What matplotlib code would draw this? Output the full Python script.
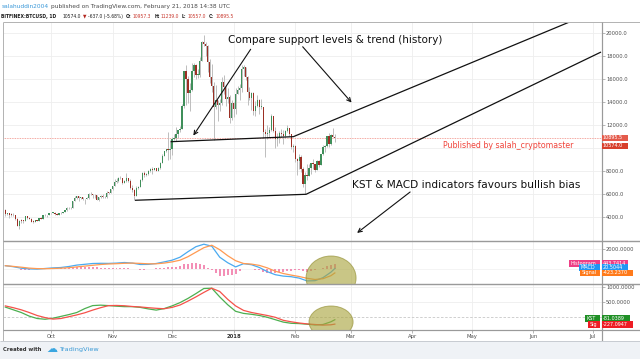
import matplotlib
matplotlib.use('Agg')
import matplotlib.pyplot as plt
import matplotlib.dates as mdates
from matplotlib.patches import Ellipse, Rectangle
from matplotlib.lines import Line2D
import numpy as np
import pandas as pd

plt.rcParams['font.family'] = ['DejaVu Sans']

# ------------------------------------------------------------------ data
candle_start = '2017-09-08'   # daily candles, Sep 8 2017 .. Feb 21 2018
open_ = [4650, 4290, 4330, 4230, 4200, 4160, 3880, 3260, 3720, 3700, 3690, 4080, 3900, 3880, 3610, 3600, 3780, 3670, 3930, 3890, 4210, 4190, 4170,
         4350, 4400, 4410, 4320, 4230, 4330, 4370, 4440, 4610, 4780, 4770, 4830, 5440, 5640, 5820, 5700, 5760, 5590, 5570, 5710, 6000, 6010, 5980, 5900, 5520, 5740, 5890, 5770, 5730, 6150, 6130,
         6460, 6740, 7030, 7160, 7390, 7390, 6970, 7120, 7450, 7140, 6580, 6340, 5880, 6550, 6610, 7280, 7850, 7700, 7790, 8040, 8200, 8090, 8250, 8040, 8250, 8750, 9330, 9750, 9900, 9850,
         9950, 10850, 10900, 11250, 11600, 11700, 13700, 16700, 16000, 14800, 15100, 16700, 17200, 16400, 16400, 17600, 19200, 19100, 18900, 17500, 16200, 15400, 13600, 14200, 13800, 13900, 15800, 15300, 14300, 14500, 12600,
         13900, 13400, 14700, 15100, 15200, 16900, 17100, 16200, 14900, 14400, 14800, 13200, 13700, 14200, 13600, 13600, 11400, 11200, 11300, 11600, 12800, 11500, 10800, 10900, 11300, 11200, 11100, 11500, 11800, 11200, 10100,
         10200, 9100, 8900, 9200, 8200, 6900, 7700, 7600, 8300, 8700, 8600, 8100, 8900, 8550, 9500, 10100, 10200, 11100, 10400, 11150, 10957]
high = [4700, 4370, 4340, 4340, 4380, 4170, 3930, 3800, 3820, 3780, 4100, 4100, 4040, 3900, 3750, 3790, 3790, 3970, 3990, 4220, 4260, 4210, 4370,
        4410, 4470, 4440, 4350, 4360, 4420, 4470, 4630, 4880, 4920, 4880, 5450, 5850, 5840, 5850, 5790, 5780, 5600, 5740, 6070, 6200, 6060, 6060, 5920, 5760, 5970, 6000, 5850, 6290, 6220, 6470,
        6750, 7330, 7460, 7490, 7600, 7410, 7200, 7880, 7460, 7300, 6800, 6480, 6700, 6720, 7300, 7960, 8000, 7850, 8130, 8280, 8380, 8300, 8300, 8330, 8770, 9500, 9780, 9980, 11430, 10720,
        10950, 11200, 11850, 11620, 11950, 13850, 16700, 17250, 16300, 15700, 17400, 17400, 17300, 16900, 17900, 19300, 19890, 19200, 18950, 17800, 17300, 15800, 15500, 14200, 14300, 16200, 16400, 15500, 15200, 14600, 14200,
        14000, 15250, 15400, 15600, 17200, 17250, 17100, 16300, 15350, 14900, 14900, 14100, 14600, 14300, 14300, 13600, 11700, 12000, 11850, 13000, 12800, 11850, 11300, 11500, 11700, 11600, 11600, 12000, 11800, 11250, 10350,
        10250, 9150, 9500, 9400, 8400, 7900, 8600, 8600, 8750, 9100, 8600, 8950, 8950, 9500, 10300, 10300, 11100, 11300, 11250, 11780, 11239]
low = [4110, 4160, 3920, 4140, 4100, 3780, 3230, 2980, 3520, 3500, 3680, 3860, 3860, 3580, 3540, 3560, 3640, 3660, 3860, 3880, 4120, 4040, 4160,
       4280, 4380, 4240, 4180, 4170, 4320, 4330, 4430, 4560, 4740, 4740, 4820, 5380, 5570, 5440, 5620, 5510, 5120, 5560, 5610, 5900, 5720, 5650, 5500, 5420, 5700, 5700, 5640, 5690, 6020, 6120,
       6400, 6740, 7000, 7040, 7290, 6930, 6950, 7080, 7060, 6450, 6200, 5510, 5850, 6450, 6610, 7130, 7540, 7550, 7700, 7970, 7800, 8090, 8030, 8000, 8240, 8750, 9330, 9650, 9000, 9100,
       9460, 10700, 10600, 10900, 11460, 11700, 13500, 13800, 13900, 13200, 15000, 16200, 16000, 16150, 16200, 17600, 18900, 18000, 16600, 15700, 14900, 10700, 13400, 12400, 13200, 13800, 14700, 13700, 13900, 12200, 12500,
       12750, 12950, 14700, 14200, 14900, 16300, 15900, 13800, 14200, 13300, 12900, 12800, 13600, 13000, 13400, 10900, 9200, 10800, 11000, 11500, 11400, 10000, 10200, 10500, 10950, 10400, 10900, 11400, 11100, 9950, 9700,
       8800, 7700, 8200, 7900, 6600, 6000, 7200, 7600, 7800, 8200, 7900, 8100, 8400, 8550, 9400, 9700, 10100, 10100, 10300, 10950, 10557]
close = [4290, 4330, 4230, 4200, 4160, 3880, 3260, 3720, 3700, 3690, 4080, 3900, 3880, 3610, 3600, 3780, 3670, 3930, 3890, 4210, 4190, 4170, 4350,
         4400, 4410, 4320, 4230, 4330, 4370, 4440, 4610, 4780, 4770, 4830, 5440, 5640, 5820, 5700, 5760, 5590, 5570, 5710, 6000, 6010, 5980, 5900, 5520, 5740, 5890, 5770, 5730, 6150, 6130, 6460,
         6740, 7030, 7160, 7390, 7390, 6970, 7120, 7450, 7140, 6580, 6340, 5880, 6550, 6610, 7280, 7850, 7700, 7790, 8040, 8200, 8090, 8250, 8040, 8250, 8750, 9330, 9750, 9900, 9850, 9950,
         10850, 10900, 11250, 11600, 11700, 13700, 16700, 16000, 14800, 15100, 16700, 17200, 16400, 16400, 17600, 19200, 19100, 18900, 17500, 16200, 15400, 13600, 14200, 13800, 13900, 15800, 15300, 14300, 14500, 12600, 13900,
         13400, 14700, 15100, 15200, 16900, 17100, 16200, 14900, 14400, 14800, 13200, 13700, 14200, 13600, 13600, 11400, 11200, 11300, 11600, 12800, 11500, 10800, 10900, 11300, 11200, 11100, 11500, 11800, 11200, 10100, 10200,
         9100, 8900, 9200, 8200, 6900, 7700, 7600, 8300, 8700, 8600, 8100, 8900, 8550, 9500, 10100, 10200, 11100, 10400, 11150, 10957, 10896]
last_price = 10895.5
last_label = 10574.0

# indicator samples read every 4 days (plus last bar)
macd = [300, 200, 50, -20, -40, 20, 80, 120, 220, 360, 440, 520, 540, 530, 560, 620, 560, 420, 430, 520, 680, 850, 1150, 1700, 2200,
        2450, 2250, 1150, 600, 180, 500, 400, 120, -300, -600, -740, -800, -940, -1220, -1200, -900, -350, 20]
signal = [300, 230, 150, 60, 10, 0, 20, 50, 100, 180, 260, 340, 420, 470, 500, 540, 560, 530, 490, 490, 560, 680, 850, 1200, 1650,
          2100, 2350, 1900, 1300, 800, 520, 460, 330, 80, -250, -480, -640, -780, -960, -1080, -1000, -700, -423]
kst = [340, 250, 160, 40, -40, -65, -30, 30, 90, 160, 290, 390, 405, 390, 370, 355, 355, 330, 280, 240, 290, 380, 490, 630, 790,
       960, 970, 680, 420, 200, 130, 100, 60, 0, -80, -160, -200, -210, -230, -255, -240, -150, -81]
kst_sig = [380, 320, 250, 160, 60, -10, -60, -40, 20, 80, 150, 240, 320, 390, 395, 385, 360, 345, 320, 300, 285, 330, 410, 540, 680,
           830, 970, 860, 600, 380, 230, 160, 110, 60, 0, -100, -150, -190, -220, -240, -260, -250, -227]
# MACD histogram read every 2 days
hist = [0, -20, -30, -60, -90, -90, -80, -70, -50, -20, 20, 40,
        60, 70, 70, 90, 120, 160, 180, 190, 180, 180, 170, 140, 120, 80, 60,
        60, 60, 70, 80, 40, 0, -70, -110, -90, -60, -20, 30, 80, 120, 150,
        170, 220, 300, 450, 520, 560, 550, 450, 350, 100, -100, -450, -700, -700, -650, -600,
        -550, -200, 0, 10, -50, -100, -170, -300, -400, -420, -400, -350, -300, -230, -180,
        -150, -170, -250, -290, -200, -100, 20, 120, 250, 350, 443]

month_ticks = ['2017-10-01', '2017-11-01', '2017-12-01', '2018-01-01', '2018-02-01',
               '2018-03-01', '2018-04-01', '2018-05-01', '2018-06-01', '2018-07-01']
month_labels = ['Oct', 'Nov', 'Dec', '2018', 'Feb', 'Mar', 'Apr', 'May', 'Jun', 'Jul']
price_ticks = [4000, 6000, 8000, 12000, 14000, 16000, 18000, 20000]
price_grid = [4000, 6000, 8000, 10000, 12000, 14000, 16000, 18000, 20000]

# drawings (time, price) as anchored on the chart
support_hi = [('2017-11-30 07:00', 10574), ('2018-01-31 02:00', 11010), ('2018-07-04 12:00', 22080)]
support_lo = [('2017-11-12 07:00', 5480), ('2018-02-06 12:00', 6000), ('2018-07-05 02:00', 18370)]
arrows = [(('2018-01-09 14:00', 18610), ('2017-12-11 17:00', 11110)),
          (('2018-02-04 19:00', 18830), ('2018-03-01 10:00', 13980)),
          (('2018-03-30 22:00', 6200), ('2018-03-04 05:00', 2640))]

# ------------------------------------------------------------------ figure
W, H = 640, 359
fig = plt.figure(figsize=(W / 100, H / 100), dpi=100)
fig.patch.set_facecolor('white')
renderer = fig.canvas.get_renderer()


def add_ax(x0, y0, x1, y1):
    a = fig.add_axes([x0 / W, 1 - y1 / H, (x1 - x0) / W, (y1 - y0) / H])
    for s in a.spines.values():
        s.set_visible(False)
    a.set_facecolor('white')
    return a


X0, X1 = 3, 601.5
PXD = 1.985
oct1 = mdates.date2num(pd.Timestamp('2017-10-01'))
xlim = (oct1 + (X0 - 51) / PXD, oct1 + (X1 - 51) / PXD)

Y_TOP, Y_M, Y_K, Y_B = 22, 240.7, 284.2, 329.5
ax = add_ax(X0, Y_TOP, X1, Y_M)
axm = add_ax(X0, Y_M, X1, Y_K)
axk = add_ax(X0, Y_K, X1, Y_B)

def tn(s):
    return mdates.date2num(pd.Timestamp(s))

mt = [tn(m) for m in month_ticks]
for a in (ax, axm, axk):
    a.set_xlim(*xlim)
    for m in mt:
        a.axvline(m, color='#eeeeee', lw=0.6, zorder=0)
    a.yaxis.tick_right()
    a.tick_params(axis='y', which='both', direction='out', length=2, width=0.5, color='#9a9a9a',
                  labelsize=3.7, labelcolor='#4d4d4d', pad=1.2, left=False, labelleft=False,
                  right=True, labelright=True)
    a.tick_params(axis='x', bottom=False, labelbottom=False)

# ---- price panel
ax.set_ylim(20000 - (Y_M - 33.3) * 86.96, 20000 + (33.3 - Y_TOP) * 86.96)
for v in price_grid:
    ax.axhline(v, color='#eeeeee', lw=0.6, zorder=0)
ax.set_yticks(price_ticks)
ax.set_yticklabels(['%.1f' % v for v in price_ticks])

cx = mdates.date2num(pd.date_range(candle_start, periods=len(close), freq='D'))
o = np.array(open_, float); c = np.array(close, float)
hi = np.array(high, float); lo = np.array(low, float)
up = c >= o
ax.vlines(cx, lo, hi, color='#bdbdbd', lw=0.7, zorder=2)
body = np.maximum(np.abs(c - o), 45)
ax.bar(cx, body, bottom=np.minimum(o, c), width=0.62,
       color=np.where(up, '#3f8f5a', '#9c2f24'), linewidth=0, zorder=3)
ax.axhline(last_price, color='#f08a80', lw=0.6, ls=(0, (1, 1)), zorder=1)

def seg(pts):
    return [tn(p[0]) for p in pts], [p[1] for p in pts]

for pts in (support_hi, support_lo):
    xs, ys = seg(pts)
    ax.plot(xs, ys, color='#111111', lw=0.9, zorder=5, solid_capstyle='butt')
for (p0, p1) in arrows:
    ax.annotate('', xy=(tn(p1[0]), p1[1]), xytext=(tn(p0[0]), p0[1]),
                arrowprops=dict(arrowstyle='->', color='#111111', lw=0.8,
                                mutation_scale=7, shrinkA=0, shrinkB=0),
                annotation_clip=False, zorder=6)

# ---- MACD panel
axm.set_ylim((268.7 - Y_K) * 100, (268.7 - Y_M) * 100)
axm.axhline(2000, color='#eeeeee', lw=0.6, zorder=0)
axm.axhline(0, color='#f2f2f2', lw=0.6, zorder=0)
axm.set_yticks([2000])
axm.set_yticklabels(['2000.0000'])
ind_x = mdates.date2num(pd.date_range('2017-09-08', periods=42, freq='4D').append(pd.DatetimeIndex(['2018-02-21'])))
hist_x = mdates.date2num(pd.date_range('2017-09-08', '2018-02-21', freq='2D'))
axm.bar(hist_x, hist, width=1.0, color='#f06a9e', alpha=0.75, linewidth=0, zorder=2)
axm.plot(ind_x, macd, color='#4aaaf0', lw=0.9, zorder=3)
axm.plot(ind_x, signal, color='#ff9a52', lw=0.9, zorder=3)
axm.add_patch(Ellipse((tn('2018-02-19 02:00'), -930), 25.2, 4400, facecolor='#a9a43c', alpha=0.62,
                      edgecolor='#8f8b2c', lw=0.7, zorder=4))

# ---- KST panel
axk.set_ylim((317.3 - Y_B) / 30 * 1000, (317.3 - Y_K) / 30 * 1000)
axk.axhline(500, color='#eeeeee', lw=0.6, zorder=0)
axk.axhline(1000, color='#eeeeee', lw=0.6, zorder=0)
axk.axhline(0, color='#c8c8c8', lw=0.6, ls=(0, (3, 2)), zorder=1)
axk.set_yticks([500, 1000])
axk.set_yticklabels(['500.0000', '1000.0000'])
axk.plot(ind_x, kst, color='#4caf50', lw=0.9, zorder=3)
axk.plot(ind_x, kst_sig, color='#f5524a', lw=0.9, zorder=3)
axk.add_patch(Ellipse((tn('2018-02-19 02:00'), -157), 22.2, 1067, facecolor='#a9a43c', alpha=0.62,
                      edgecolor='#8f8b2c', lw=0.7, zorder=4))
axk.set_xticks(mt)
axk.set_xticklabels(month_labels)
axk.tick_params(axis='x', bottom=True, labelbottom=True, length=2, width=0.5, color='#9a9a9a',
                labelsize=3.8, labelcolor='#4d4d4d', pad=1.5)
for lab in axk.get_xticklabels():
    if lab.get_text() == '2018':
        lab.set_fontweight('bold')
        lab.set_color('#333333')

# ------------------------------------------------------------------ frame lines
def fline(x0, y0, x1, y1, color='#9e9e9e', lw=1.0, z=30):
    fig.add_artist(Line2D([x0 / W, x1 / W], [1 - y0 / H, 1 - y1 / H], transform=fig.transFigure,
                          color=color, lw=lw * 0.72, zorder=z, solid_capstyle='butt'))

fig.add_artist(Rectangle((0, 0), 1, (H - 341) / H, transform=fig.transFigure,
                         facecolor='#eff2f6', edgecolor='none', zorder=1))
fline(3, Y_TOP, 640, Y_TOP, '#b4b4b4', 1.0)
fline(3, Y_TOP, 3, 341, '#b4b4b4', 1.0)
fline(3, Y_M, 640, Y_M, '#9a9a9a', 1.4)
fline(3, Y_K, 640, Y_K, '#9a9a9a', 1.4)
fline(3, Y_B, 640, Y_B, '#9a9a9a', 1.2)
fline(X1, Y_TOP, X1, 341, '#9a9a9a', 1.2)
fline(0, 341, 640, 341, '#c8ccd2', 1.0)

# ------------------------------------------------------------------ text helpers
def put(x, y, s, size, **kw):
    return fig.text(x / W, 1 - y / H, s, fontsize=size, va='baseline', ha='left', zorder=40, **kw)

def fit(x0, x1, y, s, size0=6, **kw):
    t = put(x0, y, s, size0, **kw)
    w = t.get_window_extent(renderer).width
    t.set_fontsize(size0 * (x1 - x0) / w)
    return t

def run(x0, x1, y, parts, size0=5):
    # place text segments one after another, scaled to span x0..x1
    texts = []
    for s, col, wt, gap in parts:
        texts.append((put(x0, y, s, size0, color=col, fontweight=wt), gap))
    widths = [t.get_window_extent(renderer).width for t, _ in texts]
    gaps = sum(g for _, g in texts[:-1])
    k = (x1 - x0 - gaps) / sum(widths)
    x = x0
    for (t, g), w in zip(texts, widths):
        t.set_fontsize(size0 * k)
        t.set_x(x / W)
        x += w * k + g

def box(x0, x1, yc, h, fc, text, size=3.5, tc='white'):
    fig.add_artist(Rectangle((x0 / W, 1 - (yc + h / 2) / H), (x1 - x0) / W, h / H,
                             transform=fig.transFigure, facecolor=fc, edgecolor='none', zorder=35))
    fig.text((x0 + 1.2) / W, 1 - yc / H, text, fontsize=size, color=tc, va='center', ha='left', zorder=36)

# header
run(1.3, 231.7, 7.6, [('salahuddin2004', '#3a98d8', 'normal', 1.6),
                      ('published on TradingView.com, February 21, 2018 14:38 UTC', '#4a4a4a', 'normal', 0)])
dark, red = '#1e1e1e', '#c8372d'
run(1.3, 234.0, 17.6, [('BITFINEX:BTCUSD, 1D', dark, 'bold', 4.5),
                       ('10574.0', dark, 'normal', 1.8),
                       ('\u25BC', '#b3261e', 'normal', 1.5),
                       ('-637.0 (-5.68%)', dark, 'normal', 2.4),
                       ('O:', dark, 'bold', 1.0), ('10957.3', red, 'normal', 2.4),
                       ('H:', dark, 'bold', 1.0), ('11239.0', red, 'normal', 2.4),
                       ('L:', dark, 'bold', 1.0), ('10557.0', red, 'normal', 2.4),
                       ('C:', dark, 'bold', 1.0), ('10895.5', red, 'normal', 0)])

# annotations on chart
fit(228, 444, 42.7, 'Compare support levels & trend (history)', color='#111111')
fit(352.5, 582, 188.2, 'KST & MACD indicators favours bullish bias', color='#111111')
fit(443, 574, 147.8, 'Published by salah_cryptomaster', color='#f0453c')

# price boxes
box(X1, 627.5, 137.8, 6.4, '#e45a4b', '%.1f' % last_price)
box(X1, 627.5, 145.9, 6.4, '#d8402c', '%.1f' % last_label)
# MACD value boxes
box(569, 599.5, 263.3, 6.4, '#ee3f86', 'Histogram')
box(X1, 628, 263.3, 6.4, '#ee3f86', '%.4f' % 443.7414)
box(579, 599.5, 267.6, 6.4, '#2196f3', 'MACD')
box(X1, 627.5, 267.6, 6.4, '#2196f3', '%.4f' % 20.5044)
box(580, 599.5, 272.8, 6.4, '#ff7a1a', 'Signal')
box(X1, 633, 272.8, 6.4, '#ff7a1a', '%.4f' % -423.2370)
# KST value boxes
box(585, 599.5, 318.3, 6.4, '#1f8f25', 'KST')
box(X1, 630, 318.3, 6.4, '#1f8f25', '%.4f' % -81.0389)
box(588, 599.5, 324.4, 6.4, '#ee1c24', 'Sig')
box(X1, 633, 324.4, 6.4, '#ee1c24', '%.4f' % -227.0947)

# footer
fit(2.7, 41.7, 351.3, 'Created with', color='#333333', fontweight='bold')
fit(46, 57, 352.0, '\u2601', color='#3aa6e0')
fit(59.3, 99, 351.3, 'TradingView', color='#3a9ad6')

fig.savefig('out.png', dpi=100)
